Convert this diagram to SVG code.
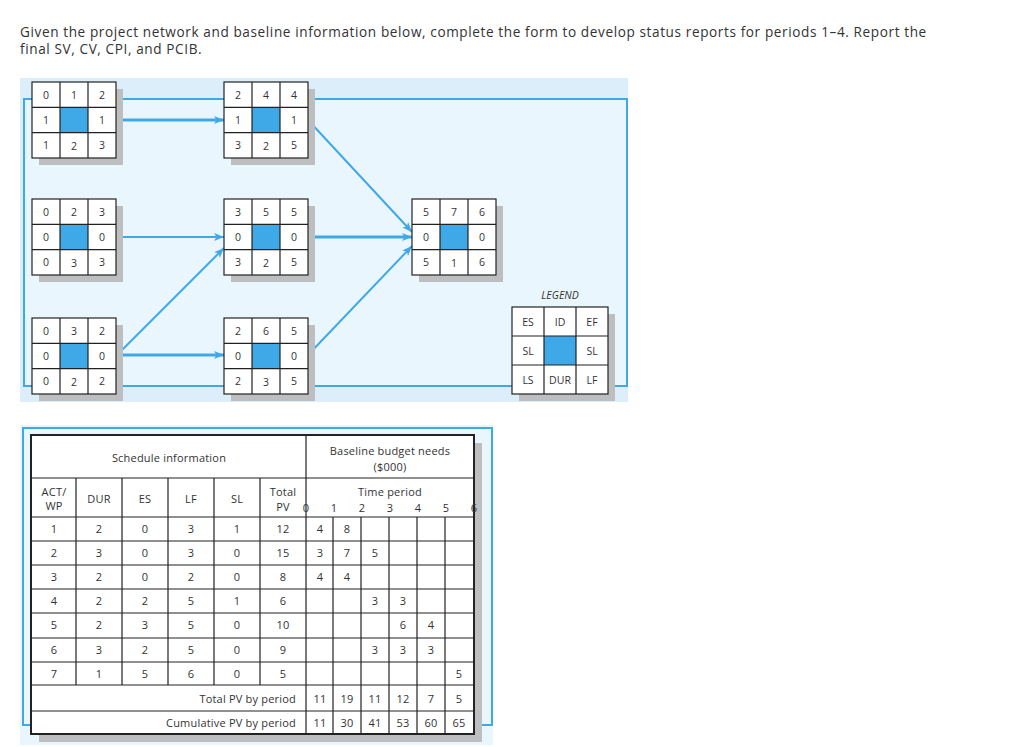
<svg xmlns="http://www.w3.org/2000/svg" width="1021" height="747" viewBox="0 0 1021 747">
<style>
text{font-family:"Open Sans","Liberation Sans",sans-serif;fill:#333;}
.t{font-size:13.6px;letter-spacing:0.6px;}
.n{font-size:10.5px;text-anchor:middle;}
.c{fill:#fff;stroke:#222;stroke-width:1.2;}
.g{fill:none;stroke:#222;stroke-width:1.2;}
.b{fill:#3fa9e8;}
.sh{fill:#bdbec0;}
.e{stroke:#3fa9e8;fill:none;}
.tb{font-size:11px;text-anchor:middle;letter-spacing:0.2px;}
.tl{stroke:#222;stroke-width:1.2;}
</style>
<defs>
<marker id="ah2" viewBox="0 0 10 10" refX="10" refY="5" markerWidth="12" markerHeight="10" orient="auto" markerUnits="userSpaceOnUse">
<path d="M0,1 L10,5 L0,9 L2.5,5 Z" fill="#3fa9e8"/>
</marker>
<g id="box">
<rect class="sh" x="7" y="7" width="84" height="76"/>
<rect class="c" x="0" y="0" width="84" height="76"/>
<rect class="b" x="28" y="25.3" width="28" height="25.3"/>
<path class="g" d="M28,0V76M56,0V76M0,25.3H84M0,50.7H84"/>
</g>
</defs>
<text class="t" x="20" y="37">Given the project network and baseline information below, complete the form to develop status reports for periods 1–4. Report the</text>
<text class="t" x="20" y="54">final SV, CV, CPI, and PCIB.</text>
<rect x="20" y="78" width="608" height="324" fill="#dbeef9"/>
<rect x="24" y="99" width="603" height="287" fill="#eaf6fd" stroke="#3fa9e8" stroke-width="2"/>
<g id="connectors">
<line class="e" stroke-width="3" x1="117" y1="120" x2="224" y2="120" marker-end="url(#ah2)"/>
<line class="e" stroke-width="2" x1="117" y1="237" x2="224" y2="237" marker-end="url(#ah2)"/>
<line class="e" stroke-width="2" x1="117" y1="355" x2="224" y2="248" marker-end="url(#ah2)"/>
<line class="e" stroke-width="3" x1="117" y1="355" x2="224" y2="355" marker-end="url(#ah2)"/>
<line class="e" stroke-width="2" x1="308" y1="120" x2="412" y2="232" marker-end="url(#ah2)"/>
<line class="e" stroke-width="3" x1="308" y1="237" x2="412" y2="237" marker-end="url(#ah2)"/>
<line class="e" stroke-width="2" x1="308" y1="355" x2="412" y2="246" marker-end="url(#ah2)"/>
</g>
<g id="node1" transform="translate(32,82)"><use href="#box"/><text class="n" x="14" y="17">0</text><text class="n" x="42" y="17">1</text><text class="n" x="70" y="17">2</text><text class="n" x="14" y="42">1</text><text class="n" x="70" y="42">1</text><text class="n" x="14" y="67">1</text><text class="n" x="42" y="68">2</text><text class="n" x="70" y="67">3</text></g>
<g id="node2" transform="translate(32,199)"><use href="#box"/><text class="n" x="14" y="17">0</text><text class="n" x="42" y="17">2</text><text class="n" x="70" y="17">3</text><text class="n" x="14" y="42">0</text><text class="n" x="70" y="42">0</text><text class="n" x="14" y="67">0</text><text class="n" x="42" y="68">3</text><text class="n" x="70" y="67">3</text></g>
<g id="node3" transform="translate(32,318)"><use href="#box"/><text class="n" x="14" y="17">0</text><text class="n" x="42" y="17">3</text><text class="n" x="70" y="17">2</text><text class="n" x="14" y="42">0</text><text class="n" x="70" y="42">0</text><text class="n" x="14" y="67">0</text><text class="n" x="42" y="68">2</text><text class="n" x="70" y="67">2</text></g>
<g id="node4" transform="translate(224,82)"><use href="#box"/><text class="n" x="14" y="17">2</text><text class="n" x="42" y="17">4</text><text class="n" x="70" y="17">4</text><text class="n" x="14" y="42">1</text><text class="n" x="70" y="42">1</text><text class="n" x="14" y="67">3</text><text class="n" x="42" y="68">2</text><text class="n" x="70" y="67">5</text></g>
<g id="node5" transform="translate(224,199)"><use href="#box"/><text class="n" x="14" y="17">3</text><text class="n" x="42" y="17">5</text><text class="n" x="70" y="17">5</text><text class="n" x="14" y="42">0</text><text class="n" x="70" y="42">0</text><text class="n" x="14" y="67">3</text><text class="n" x="42" y="68">2</text><text class="n" x="70" y="67">5</text></g>
<g id="node6" transform="translate(224,318)"><use href="#box"/><text class="n" x="14" y="17">2</text><text class="n" x="42" y="17">6</text><text class="n" x="70" y="17">5</text><text class="n" x="14" y="42">0</text><text class="n" x="70" y="42">0</text><text class="n" x="14" y="67">2</text><text class="n" x="42" y="68">3</text><text class="n" x="70" y="67">5</text></g>
<g id="node7" transform="translate(412,199)"><use href="#box"/><text class="n" x="14" y="17">5</text><text class="n" x="42" y="17">7</text><text class="n" x="70" y="17">6</text><text class="n" x="14" y="42">0</text><text class="n" x="70" y="42">0</text><text class="n" x="14" y="67">5</text><text class="n" x="42" y="68">1</text><text class="n" x="70" y="67">6</text></g>
<g id="legend" transform="translate(512,307)">
<text class="n" x="48" y="-8" font-style="italic">LEGEND</text>
<rect class="sh" x="7" y="7" width="96" height="87"/>
<rect class="c" x="0" y="0" width="96" height="87"/>
<rect class="b" x="32" y="29" width="32" height="29"/>
<path class="g" d="M32,0V87M64,0V87M0,29H96M0,58H96"/>
<text class="n" x="16" y="19">ES</text><text class="n" x="48" y="19">ID</text><text class="n" x="80" y="19">EF</text>
<text class="n" x="16" y="48">SL</text><text class="n" x="80" y="48">SL</text>
<text class="n" x="16" y="77">LS</text><text class="n" x="48" y="77">DUR</text><text class="n" x="80" y="77">LF</text>
</g>
<g id="table">
<rect x="20" y="425" width="473" height="320" fill="#eaf6fd"/>
<rect x="23" y="428" width="469" height="297" fill="none" stroke="#3fa9e8" stroke-width="2"/>
<rect class="sh" x="39" y="443" width="443" height="299"/>
<rect x="31" y="435" width="443" height="299" fill="#fff" stroke="#222" stroke-width="2"/>
<path class="tl" d="M31,478H474M31,517H474M31,541H474M31,565H474M31,589H474M31,613H474M31,638H474M31,662H474M31,685H474M31,711H474"/>
<path class="tl" d="M306,435V734M76,478V685M122,478V685M168,478V685M214,478V685M260,478V685M333,517V734M361,517V734M389,517V734M417,517V734M445,517V734"/>
<text class="tb" x="169" y="462">Schedule information</text>
<text class="tb" x="390" y="455">Baseline budget needs</text>
<text class="tb" x="390" y="471">($000)</text>
<text class="tb" x="390" y="496">Time period</text>
<text class="tb" x="54" y="496">ACT/</text><text class="tb" x="54" y="510">WP</text>
<text class="tb" x="99" y="503">DUR</text><text class="tb" x="145" y="503">ES</text><text class="tb" x="191" y="503">LF</text><text class="tb" x="237" y="503">SL</text>
<text class="tb" x="283" y="496">Total</text><text class="tb" x="283" y="511">PV</text>
<text class="tb" x="306" y="512">0</text><text class="tb" x="334" y="512">1</text><text class="tb" x="362" y="512">2</text><text class="tb" x="390" y="512">3</text><text class="tb" x="418" y="512">4</text><text class="tb" x="446" y="512">5</text><text class="tb" x="474" y="512">6</text>
<g>
<text class="tb" x="54" y="533">1</text><text class="tb" x="99" y="533">2</text><text class="tb" x="145" y="533">0</text><text class="tb" x="191" y="533">3</text><text class="tb" x="237" y="533">1</text><text class="tb" x="283" y="533">12</text><text class="tb" x="320" y="533">4</text><text class="tb" x="347" y="533">8</text>
<text class="tb" x="54" y="557">2</text><text class="tb" x="99" y="557">3</text><text class="tb" x="145" y="557">0</text><text class="tb" x="191" y="557">3</text><text class="tb" x="237" y="557">0</text><text class="tb" x="283" y="557">15</text><text class="tb" x="320" y="557">3</text><text class="tb" x="347" y="557">7</text><text class="tb" x="375" y="557">5</text>
<text class="tb" x="54" y="581">3</text><text class="tb" x="99" y="581">2</text><text class="tb" x="145" y="581">0</text><text class="tb" x="191" y="581">2</text><text class="tb" x="237" y="581">0</text><text class="tb" x="283" y="581">8</text><text class="tb" x="320" y="581">4</text><text class="tb" x="347" y="581">4</text>
<text class="tb" x="54" y="605">4</text><text class="tb" x="99" y="605">2</text><text class="tb" x="145" y="605">2</text><text class="tb" x="191" y="605">5</text><text class="tb" x="237" y="605">1</text><text class="tb" x="283" y="605">6</text><text class="tb" x="375" y="605">3</text><text class="tb" x="403" y="605">3</text>
<text class="tb" x="54" y="629">5</text><text class="tb" x="99" y="629">2</text><text class="tb" x="145" y="629">3</text><text class="tb" x="191" y="629">5</text><text class="tb" x="237" y="629">0</text><text class="tb" x="283" y="629">10</text><text class="tb" x="403" y="629">6</text><text class="tb" x="431" y="629">4</text>
<text class="tb" x="54" y="654">6</text><text class="tb" x="99" y="654">3</text><text class="tb" x="145" y="654">2</text><text class="tb" x="191" y="654">5</text><text class="tb" x="237" y="654">0</text><text class="tb" x="283" y="654">9</text><text class="tb" x="375" y="654">3</text><text class="tb" x="403" y="654">3</text><text class="tb" x="431" y="654">3</text>
<text class="tb" x="54" y="678">7</text><text class="tb" x="99" y="678">1</text><text class="tb" x="145" y="678">5</text><text class="tb" x="191" y="678">6</text><text class="tb" x="237" y="678">0</text><text class="tb" x="283" y="678">5</text><text class="tb" x="459" y="678">5</text>
<text class="tb" x="296" y="703" style="text-anchor:end">Total PV by period</text>
<text class="tb" x="320" y="703">11</text><text class="tb" x="347" y="703">19</text><text class="tb" x="375" y="703">11</text><text class="tb" x="403" y="703">12</text><text class="tb" x="431" y="703">7</text><text class="tb" x="459" y="703">5</text>
<text class="tb" x="296" y="727" style="text-anchor:end">Cumulative PV by period</text>
<text class="tb" x="320" y="727">11</text><text class="tb" x="347" y="727">30</text><text class="tb" x="375" y="727">41</text><text class="tb" x="403" y="727">53</text><text class="tb" x="431" y="727">60</text><text class="tb" x="459" y="727">65</text>
</g>
</g>
</svg>
